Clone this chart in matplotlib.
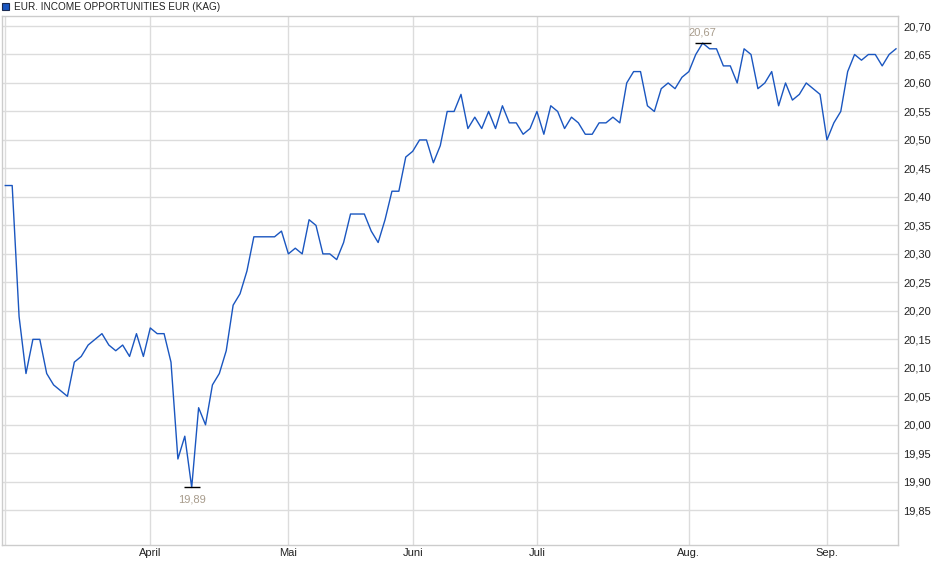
import matplotlib
matplotlib.use("Agg")
import matplotlib.pyplot as plt
from matplotlib.patches import Rectangle
from matplotlib.ticker import FuncFormatter

plt.rcParams['font.family'] = ['Liberation Sans', 'DejaVu Sans']

# Kursverlauf (ein Wert je Handelstag)
series_name = "EUR. INCOME OPPORTUNITIES EUR (KAG)"
prices = [
    20.42, 20.42, 20.19, 20.09, 20.15, 20.15, 20.09, 20.07, 20.06, 20.05,
    20.11, 20.12, 20.14, 20.15, 20.16, 20.14, 20.13, 20.14, 20.12, 20.16,
    20.12, 20.17, 20.16, 20.16,
    20.11, 19.94, 19.98, 19.89, 20.03, 20.00, 20.07, 20.09, 20.13, 20.21,
    20.23, 20.27, 20.33, 20.33, 20.33, 20.33, 20.34,
    20.30, 20.31, 20.30, 20.36, 20.35, 20.30, 20.30, 20.29, 20.32, 20.37,
    20.37, 20.37, 20.34, 20.32, 20.36, 20.41, 20.41, 20.47, 20.48, 20.50,
    20.50,
    20.46, 20.49, 20.55, 20.55, 20.58, 20.52, 20.54, 20.52, 20.55, 20.52,
    20.56, 20.53, 20.53, 20.51, 20.52, 20.55, 20.51, 20.56, 20.55, 20.52,
    20.54, 20.53,
    20.51, 20.51, 20.53, 20.53, 20.54, 20.53, 20.60, 20.62, 20.62, 20.56,
    20.55, 20.59, 20.60, 20.59, 20.61, 20.62, 20.65, 20.67, 20.66, 20.66,
    20.63, 20.63, 20.60,
    20.66, 20.65, 20.59, 20.60, 20.62, 20.56, 20.60, 20.57, 20.58, 20.60,
    20.59, 20.58, 20.50, 20.53, 20.55, 20.62, 20.65, 20.64, 20.65, 20.65,
    20.63, 20.65, 20.66,
]

# Monatsanfang als Index im Handelstag-Raster
month_idx = [0, 21, 41, 59, 77, 99, 119]
month_labels = ["", "April", "Mai", "Juni", "Juli", "Aug.", "Sep."]
y_ticks = [19.85, 19.90, 19.95, 20.00, 20.05, 20.10, 20.15, 20.20, 20.25,
           20.30, 20.35, 20.40, 20.45, 20.50, 20.55, 20.60, 20.65, 20.70]

LINE_COLOR = '#1a56c0'
GRID_COLOR = '#dcdcdc'
LABEL_COLOR = '#a89c8c'

fig = plt.figure(figsize=(9.4, 5.79), dpi=100)
ax = fig.add_axes([0.00245, 0.0587, 0.9528, 0.9137])

x = list(range(len(prices)))
ax.plot(x, prices, color=LINE_COLOR, lw=1.0, zorder=3)

ax.set_xlim(-0.43, 129.28)
ax.set_ylim(19.789, 20.7176)

ax.set_xticks(month_idx)
ax.set_xticklabels(month_labels)
ax.set_yticks(y_ticks)
ax.yaxis.set_major_formatter(FuncFormatter(lambda v, p: f"{v:.2f}".replace('.', ',')))
ax.yaxis.tick_right()
ax.tick_params(axis='both', length=0, labelsize=8, colors='#222222')
ax.tick_params(axis='y', pad=4)
ax.tick_params(axis='x', pad=2)
ax.grid(True, color=GRID_COLOR, lw=1.0)
ax.set_axisbelow(True)
for s in ax.spines.values():
    s.set_color('#cccccc')
    s.set_linewidth(1.0)

# Tief und Hoch markieren
i_min = prices.index(min(prices))
i_max = prices.index(max(prices))
for i, off, va in [(i_min, -5, 'top'), (i_max, 4, 'bottom')]:
    ax.plot(i, prices[i], marker='_', ms=11, mew=1.0, color='black', zorder=4)
    ax.annotate(f"{prices[i]:.2f}".replace('.', ','), (i, prices[i]),
                xytext=(0, off), textcoords='offset points',
                ha='center', va=va, fontsize=8, color=LABEL_COLOR)

# Legende oben links
fig.patches.append(Rectangle((2 / 940, 1 - 10 / 579), 7 / 940, 7 / 579,
                             transform=fig.transFigure, facecolor=LINE_COLOR,
                             edgecolor='#1a2a50', lw=0.8))
fig.text(14 / 940, 1 - 6.5 / 579, series_name, fontsize=7.2,
         color='#222222', va='center', ha='left')

fig.savefig("out.png", dpi=100)
